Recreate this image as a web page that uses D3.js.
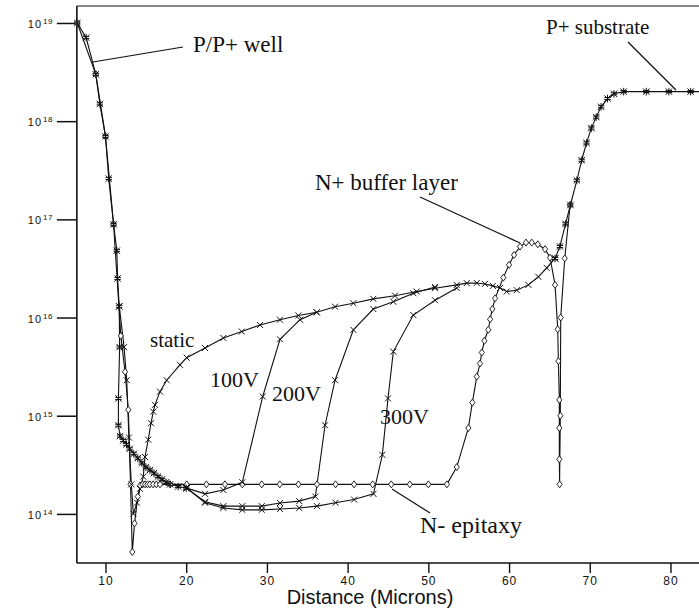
<!DOCTYPE html>
<html>
<head>
<meta charset="utf-8">
<script src="https://cdn.jsdelivr.net/npm/d3@7"></script>
<style>
  html, body { margin: 0; padding: 0; background: #fff; }
  svg { display: block; }
</style>
</head>
<body>
<svg id="chart" width="699" height="613"></svg>
<script>
// ---- data: distance (microns) and concentration (cm^-3) ----
const wellX = [6.5, 7.6, 8.8, 9.3, 10.0, 10.4, 11.0, 11.4, 11.5, 11.7, 11.75, 11.6, 11.6, 11.8, 12.2, 12.6, 13.0, 13.5, 14.0, 14.5, 15.0, 15.5, 16.0, 16.5, 17.0, 17.5, 18.0, 19.0, 20.0];
const wellY = [1e19, 7.1e18, 3e18, 1.5e18, 7e17, 2.6e17, 8.9e16, 4.8e16, 2.5e16, 1.3e16, 5e15, 1.5e15, 8e14, 6.2e14, 5.6e14, 5.1e14, 4.6e14, 4.1e14, 3.7e14, 3.3e14, 3.0e14, 2.8e14, 2.6e14, 2.4e14, 2.25e14, 2.1e14, 2.0e14, 1.9e14, 1.83e14];

const substrateX = [65.7, 66.3, 67.0, 67.6, 68.4, 69.0, 69.6, 70.2, 70.8, 71.4, 72.2, 73.0, 74.2, 77.0, 79.8, 82.5, 84.5];
const substrateY = [4e16, 5.3e16, 9e16, 1.4e17, 2.5e17, 4e17, 6e17, 8.5e17, 1.1e18, 1.4e18, 1.7e18, 1.9e18, 2e18, 2e18, 2e18, 2e18, 2e18];

const staticX = [11.71, 12.3, 12.63, 12.9, 13.2, 13.45, 13.9, 14.27, 14.68, 14.89, 15.3, 15.64, 15.92, 16.13, 16.75, 17.58, 19.23, 20.06, 22.33, 24.6, 26.88, 29.15, 31.62, 33.89, 36.17, 38.44, 40.71, 43.18, 45.87, 48.56, 50.83, 53.52, 54.76, 56.0, 57.0, 58.0, 58.88, 59.71, 60.95, 62.39, 63.63, 64.67, 65.7];
const staticY = [1.3e16, 5e15, 2.3e15, 6e14, 2e14, 1e14, 1.3e14, 1.8e14, 2.4e14, 3.8e14, 5.7e14, 8.4e14, 1.1e15, 1.29e15, 1.76e15, 2.3e15, 3.3e15, 3.9e15, 4.9e15, 6.2e15, 7.2e15, 8.4e15, 9.5e15, 1.05e16, 1.13e16, 1.29e16, 1.4e16, 1.55e16, 1.67e16, 1.84e16, 1.99e16, 2.15e16, 2.24e16, 2.25e16, 2.2e16, 2.1e16, 2e16, 1.84e16, 1.9e16, 2.15e16, 2.6e16, 3.2e16, 4e16];

const v100X = [20.06, 22.33, 24.6, 26.95, 29.48, 31.62, 34.1, 36.17];
const v100Y = [1.83e14, 1.6e14, 1.75e14, 2.1e14, 1.57e15, 6e15, 9.5e15, 1.13e16];

const v200X = [20.06, 22.33, 24.6, 26.95, 29.36, 31.62, 34.0, 36.0, 37.2, 38.44, 40.71, 43.18, 45.66, 48.14, 50.83];
const v200Y = [1.83e14, 1.33e14, 1.2e14, 1.2e14, 1.2e14, 1.29e14, 1.35e14, 1.5e14, 8e14, 2.3e15, 7.5e15, 1.22e16, 1.45e16, 1.77e16, 2.05e16];

const v300X = [20.06, 22.33, 24.6, 26.95, 29.36, 31.62, 34.0, 36.2, 38.5, 40.8, 43.2, 44.3, 45.0, 45.66, 48.14, 50.83, 53.52];
const v300Y = [1.83e14, 1.3e14, 1.15e14, 1.1e14, 1.1e14, 1.12e14, 1.15e14, 1.2e14, 1.3e14, 1.4e14, 1.6e14, 4e14, 1.5e15, 4.5e15, 1.06e16, 1.5e16, 2e16];

const dopingX = [6.5, 8.8, 10.0, 11.0, 11.9, 12.42, 12.83, 13.1, 13.32, 13.6, 14.0, 14.3, 14.6, 14.9, 15.2, 15.5, 15.9, 16.3, 16.75, 18.0, 20.06, 22.5, 24.8, 26.95, 29.36, 31.6, 33.9, 36.2, 38.5, 40.8, 43.1, 45.4, 47.7, 50.0, 52.3, 53.52, 54.96, 55.45, 56.0, 56.4, 56.62, 56.94, 57.43, 57.65, 57.93, 58.27, 59.29, 60.0, 60.62, 61.36, 62.1, 62.81, 63.56, 64.46, 65.08, 65.7, 66.03, 66.11, 66.23, 66.23, 66.23, 66.26, 66.35, 66.4, 66.9, 67.56];
const dopingY = [1e19, 3e18, 7e17, 8.9e16, 6.5e15, 2.8e15, 1.15e15, 2e14, 4.1e13, 8e13, 1.5e14, 1.95e14, 2e14, 2e14, 2e14, 2e14, 2e14, 2e14, 2e14, 2e14, 2e14, 2e14, 2e14, 2e14, 2e14, 2e14, 2e14, 2e14, 2e14, 2e14, 2e14, 2e14, 2e14, 2e14, 2e14, 3e14, 7.5e14, 1.36e15, 2.5e15, 3.4e15, 4.4e15, 5.8e15, 7.5e15, 9.6e15, 1.22e16, 1.57e16, 2.55e16, 3.44e16, 4.34e16, 5.27e16, 5.8e16, 5.8e16, 5.57e16, 4.97e16, 4.07e16, 2.15e16, 7.6e15, 3.6e15, 1.45e15, 7.5e14, 3.6e14, 2e14, 1e15, 1e16, 4e16, 1.4e17];

// tick values
const xMajorTicks = [10, 20, 30, 40, 50, 60, 70, 80];
const yMajorExps = [14, 15, 16, 17, 18, 19];

// ---- scales ----
const svg = d3.select("#chart");
const W = 699, H = 613;
const x = d3.scaleLinear().domain([6.45, 84.5]).range([76.85, 706.8]);
const y = d3.scaleLog().domain([Math.pow(10, 13.5), Math.pow(10, 19.173)]).range([563, 6]);

svg.append("rect").attr("width", W).attr("height", H).attr("fill", "#fff");

const ink = "#111";

// frame: top edge
svg.append("line").attr("x1", x(6.45)).attr("x2", W).attr("y1", 6).attr("y2", 6)
  .attr("stroke", ink).attr("stroke-width", 1.2);

// ---- x axis ----
const xMinor = d3.range(7.5, 84, 2.5).filter(v => xMajorTicks.indexOf(v) < 0);
const xAxisMajor = d3.axisBottom(x).tickValues(xMajorTicks).tickSize(10).tickPadding(3).tickFormat(d3.format("d"));
const xAxisMinor = d3.axisBottom(x).tickValues(xMinor).tickSize(4).tickFormat("");
const gx = svg.append("g").attr("transform", "translate(0,563)");
gx.call(xAxisMinor);
gx.call(xAxisMajor);
gx.selectAll(".domain").remove();
gx.selectAll("line").attr("stroke", ink).attr("stroke-width", 1.4);
gx.selectAll("text").attr("font-family", "Liberation Sans, Arial, sans-serif")
  .attr("font-size", 12).attr("letter-spacing", 1).attr("fill", ink);
svg.append("line").attr("x1", x(6.45)).attr("x2", W).attr("y1", 563).attr("y2", 563)
  .attr("stroke", ink).attr("stroke-width", 1.5);

svg.append("text").attr("x", 370).attr("y", 604).attr("text-anchor", "middle")
  .attr("font-family", "Liberation Sans, Arial, sans-serif").attr("font-size", 20)
  .attr("fill", ink).text("Distance (Microns)");

// ---- y axis (log) ----
const yMajor = yMajorExps.map(e => Math.pow(10, e));
const yMinor = [];
[13, 14, 15, 16, 17, 18].forEach(e => [2, 4, 6, 8].forEach(m => {
  const v = m * Math.pow(10, e);
  if (v >= y.domain()[0] && v <= y.domain()[1]) yMinor.push(v);
}));
const gy = svg.append("g").attr("transform", "translate(" + x(6.45) + ",0)");
gy.call(d3.axisLeft(y).tickValues(yMinor).tickSize(10).tickFormat(""));
gy.call(d3.axisLeft(y).tickValues(yMajor).tickSize(20).tickFormat(""));
gy.selectAll(".domain").remove();
gy.selectAll("line").attr("stroke", ink).attr("stroke-width", 1.5);
svg.append("line").attr("x1", x(6.45)).attr("x2", x(6.45)).attr("y1", 6).attr("y2", 563)
  .attr("stroke", ink).attr("stroke-width", 1.6);

const ylab = svg.append("g");
yMajorExps.forEach(e => {
  const t = ylab.append("text").attr("x", 53).attr("y", y(Math.pow(10, e)) + 5)
    .attr("text-anchor", "end").attr("font-family", "Liberation Sans, Arial, sans-serif")
    .attr("fill", ink);
  t.append("tspan").attr("font-size", 11).attr("letter-spacing", 1).text("10");
  t.append("tspan").attr("font-size", 8).attr("dy", -4).attr("dx", 1).attr("letter-spacing", 0.5).text(String(e));
});

// ---- curves ----
const line = d3.line().x(d => x(d[0])).y(d => y(d[1]));
const zip = (xs, ys) => xs.map((v, i) => [v, ys[i]]);

const series = [
  { pts: zip(dopingX, dopingY), mark: "diamond" },
  { pts: zip(staticX, staticY), mark: "cross" },
  { pts: zip(v100X, v100Y), mark: "cross" },
  { pts: zip(v200X, v200Y), mark: "cross" },
  { pts: zip(v300X, v300Y), mark: "cross" },
  { pts: zip(wellX, wellY), mark: "star" },
  { pts: zip(substrateX, substrateY), mark: "star" }
];

const plot = svg.append("g");
series.forEach(s => {
  plot.append("path").attr("d", line(s.pts)).attr("fill", "none")
    .attr("stroke", ink).attr("stroke-width", 1.1);
});

function drawMark(g, kind, px, py) {
  if (kind === "diamond") {
    g.append("path").attr("d", `M${px},${py - 3.5}L${px + 2.6},${py}L${px},${py + 3.5}L${px - 2.6},${py}Z`)
      .attr("fill", "#fff").attr("stroke", ink).attr("stroke-width", 0.9);
  } else if (kind === "cross") {
    const r = 3;
    g.append("path").attr("d", `M${px - r},${py - r}L${px + r},${py + r}M${px - r},${py + r}L${px + r},${py - r}`)
      .attr("stroke", ink).attr("stroke-width", 1);
  } else {
    const r = 3.2;
    g.append("path").attr("d", `M${px - r},${py - r}L${px + r},${py + r}M${px - r},${py + r}L${px + r},${py - r}M${px},${py - r - 0.6}L${px},${py + r + 0.6}M${px - r},${py - 1}L${px + r},${py - 1}M${px - r},${py + 1}L${px + r},${py + 1}`)
      .attr("stroke", ink).attr("stroke-width", 1);
  }
}
series.forEach(s => s.pts.forEach(p => drawMark(plot, s.mark, x(p[0]), y(p[1]))));

// ---- annotations ----
const serif = "Liberation Serif, Times New Roman, serif";
function label(txt, lx, ly, size) {
  svg.append("text").attr("x", lx).attr("y", ly).attr("font-family", serif)
    .attr("font-size", size).attr("fill", ink).text(txt);
}
function leader(x1, y1, x2, y2) {
  svg.append("line").attr("x1", x1).attr("y1", y1).attr("x2", x2).attr("y2", y2)
    .attr("stroke", ink).attr("stroke-width", 1.2);
}
label("P/P+ well", 193, 52, 23);
leader(93, 62, 183, 47);
label("P+ substrate", 546, 34, 21);
leader(628, 42, 676, 90);
label("N+ buffer layer", 315, 190, 23);
leader(420, 197, 520, 243);
label("static", 150, 347, 21);
label("100V", 210, 387, 22);
label("200V", 272, 401, 22);
label("300V", 380, 424, 22);
label("N- epitaxy", 420, 533, 24);
leader(392, 489, 430, 513);
</script>
</body>
</html>
